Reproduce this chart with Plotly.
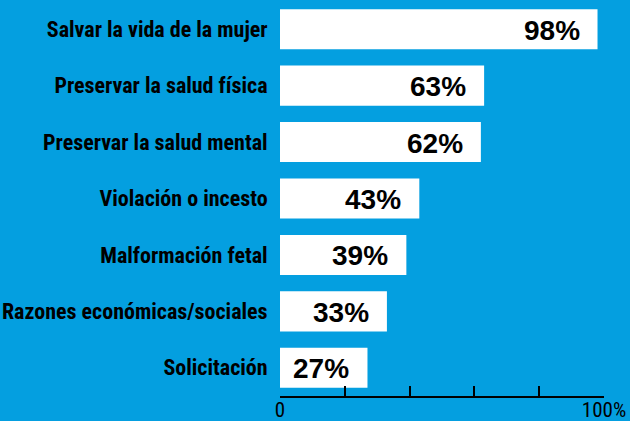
import plotly.graph_objects as go

categories = ["Salvar la vida de la mujer", "Preservar la salud física", "Preservar la salud mental",
              "Violación o incesto", "Malformación fetal", "Razones económicas/sociales", "Solicitación"]
values = [98, 63, 62, 43, 39, 33, 27]
tick_vals = [0, 20, 40, 60, 80, 100]
tick_text = ["0", "", "", "", "", "100%"]

BG = "#049fe0"

fig = go.Figure()
fig.add_trace(go.Bar(
    y=categories, x=values, orientation="h",
    marker=dict(color="white", line=dict(width=0)),
    width=0.71, hoverinfo="skip",
))
for c, v in zip(categories, values):
    fig.add_annotation(x=v, y=c, text=f"{v}%", showarrow=False, xanchor="right",
                       xshift=-16, yshift=-1,
                       font=dict(family="Liberation Sans", size=28, color="black", weight="bold"))

fig.update_layout(
    width=630, height=421,
    margin=dict(l=280, r=26, t=1, b=25, autoexpand=False),
    paper_bgcolor=BG, plot_bgcolor=BG,
    showlegend=False,
    bargap=0.29,
    xaxis=dict(range=[0, 100], tickvals=tick_vals, ticktext=tick_text,
               ticks="inside", ticklen=10, tickwidth=1.5, tickcolor="black",
               showline=True, linecolor="black", linewidth=1.5,
               showgrid=False, zeroline=False, fixedrange=True, automargin=False,
               ticklabeloverflow="allow", ticklabelstandoff=-6,
               tickfont=dict(family="Roboto Condensed, Roboto", size=21, color="black")),
    yaxis=dict(categoryorder="array", categoryarray=categories[::-1],
               range=[-0.5, 6.5], showgrid=False, zeroline=False, showline=False,
               ticks="outside", ticklen=7, tickcolor="rgba(0,0,0,0)", automargin=False,
               tickfont=dict(family="Roboto Condensed, Roboto", size=22, color="black", weight="bold")),
)
fig.write_html("out.html")
